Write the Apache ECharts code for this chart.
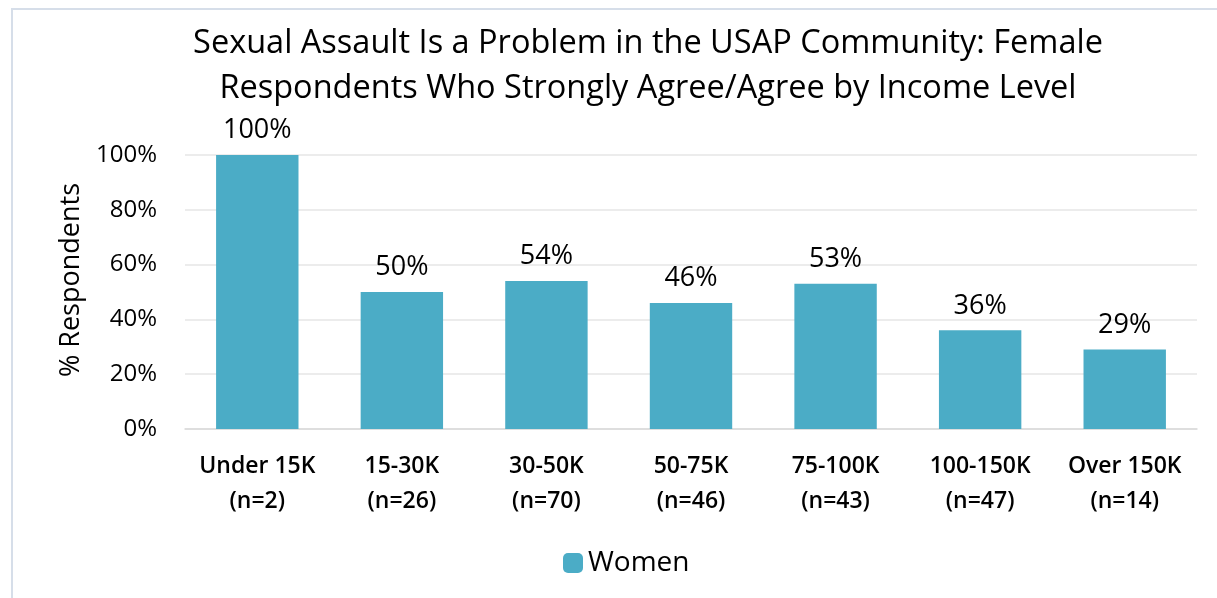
<!DOCTYPE html>
<html>
<head>
<meta charset="utf-8">
<script src="https://cdn.jsdelivr.net/npm/echarts@6/dist/echarts.min.js"></script>
<style>
  html, body { margin: 0; padding: 0; background: #fff; }
  #chart { width: 1217px; height: 598px; }
</style>
</head>
<body>
<div id="chart"></div>
<script>
const categories = ['Under 15K\n(n=2)', '15-30K\n(n=26)', '30-50K\n(n=70)', '50-75K\n(n=46)', '75-100K\n(n=43)', '100-150K\n(n=47)', 'Over 150K\n(n=14)']
const women = [100, 50, 54, 46, 53, 36, 29]
const yTicks = [0, 20, 40, 60, 80, 100]

const FONT = '"Open Sans", Lato, sans-serif'
const chart = echarts.init(document.getElementById('chart'))

chart.setOption({
  animation: false,
  textStyle: { fontFamily: FONT, color: '#000' },
  graphic: [{
    type: 'rect',
    shape: { x: 12, y: 9, width: 1230, height: 620 },
    style: { fill: 'none', stroke: '#d6dee9', lineWidth: 2 },
    silent: true,
  }],
  title: {
    text: 'Sexual Assault Is a Problem in the USAP Community: Female\nRespondents Who Strongly Agree/Agree by Income Level',
    left: 643,
    textAlign: 'center',
    top: 16,
    textStyle: { fontFamily: FONT, fontSize: 32.5, fontWeight: 'normal', lineHeight: 45, color: '#000' },
  },
  legend: {
    data: ['Women'],
    bottom: 16,
    left: 558,
    itemWidth: 20,
    itemHeight: 20,
    itemGap: 8,
    textStyle: { fontFamily: FONT, fontSize: 28, color: '#000' },
  },
  grid: { left: 185, right: 20, top: 155, bottom: 169, containLabel: false },
  xAxis: {
    type: 'category',
    data: categories,
    axisTick: { show: false },
    axisLine: { lineStyle: { color: '#d9d9d9', width: 1.5 } },
    axisLabel: { interval: 0, fontFamily: FONT, fontSize: 23, fontWeight: 600, lineHeight: 35, color: '#000', margin: 20 },
  },
  yAxis: {
    type: 'value',
    min: yTicks[0],
    max: yTicks[yTicks.length - 1],
    interval: 20,
    name: '% Respondents',
    nameLocation: 'middle',
    nameRotate: 90,
    nameGap: 100,
    nameTextStyle: { fontFamily: FONT, fontSize: 27, color: '#000', padding: [0, 0, 0, 24] },
    axisLabel: { fontFamily: FONT, fontSize: 24, color: '#000', margin: 28, formatter: '{value}%' },
    splitLine: { lineStyle: { color: '#e6e6e6', width: 1.5 } },
  },
  series: [{
    name: 'Women',
    type: 'bar',
    data: women,
    barWidth: '57%',
    itemStyle: { color: '#4bacc6' },
    label: {
      show: true,
      position: 'top',
      distance: 11,
      formatter: '{c}%',
      fontFamily: FONT,
      fontSize: 27,
      color: '#000',
    },
  }],
})
</script>
</body>
</html>
